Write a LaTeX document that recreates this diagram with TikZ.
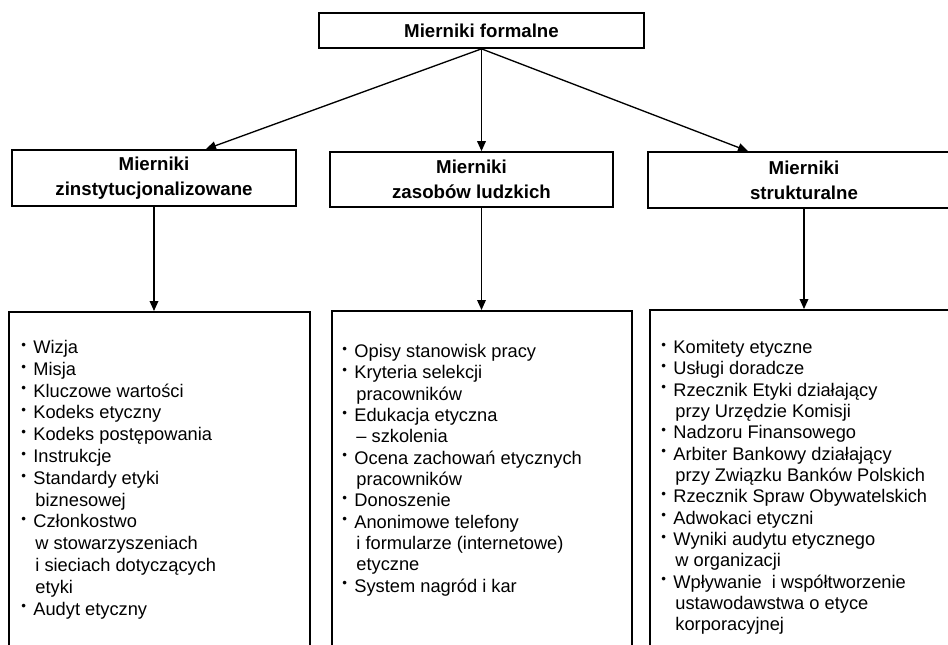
\documentclass[tikz,border=0pt]{standalone}
\usepackage{fontspec}
\setmainfont{Liberation Sans}
\usetikzlibrary{arrows.meta}
\newcommand{\pkt}{\makebox[9pt][l]{\raisebox{3.2pt}{\fontsize{10}{10}\selectfont\textbullet}}}
\newcommand{\dal}{\hspace*{10.5pt}}

\begin{document}
\begin{tikzpicture}[x=0.75pt,y=-0.75pt,
  naglowek/.style={draw, line width=1.3pt, align=center, inner sep=2pt,
    font=\fontsize{14}{19}\selectfont\bfseries},
  ramka/.style={draw, line width=1.3pt, anchor=north, minimum height=270pt},
  lista/.style={anchor=north west, inner sep=0pt, align=left,
    font=\fontsize{13.7}{16}\selectfont},
  strzalka/.style={-{Triangle[length=7.5pt,width=6.5pt]}, line width=1pt}
]
\useasboundingbox (0,0) rectangle (948,645);
\clip (0,0) rectangle (948,645);
\node[naglowek, minimum width=243.75pt, minimum height=26.25pt] (formalne) at (481.5,30.5)
  {Mierniki formalne};
\node[naglowek, minimum width=213pt, minimum height=42pt] (inst) at (154,178)
  {Mierniki\\zinstytucjonalizowane};
\node[naglowek, minimum width=212.25pt, minimum height=41.25pt] (ludzkie) at (471.5,179.5)
  {Mierniki\\zasobów ludzkich};
\node[naglowek, minimum width=234pt, minimum height=42pt] (strukt) at (804,180)
  {Mierniki\\strukturalne};
\node[ramka, minimum width=225.75pt] (instbox) at (159.5,311) {};
\node[ramka, minimum width=225pt] (ludzkiebox) at (482,310) {};
\node[ramka, minimum width=229.5pt] (struktbox) at (803,309) {};
\node[lista, font=\fontsize{13.7}{16.35}\selectfont] (instlista)
  at ([shift={(13,29)}]instbox.north west)
  {\pkt Wizja\\
   \pkt Misja\\
   \pkt Kluczowe wartości\\
   \pkt Kodeks etyczny\\
   \pkt Kodeks postępowania\\
   \pkt Instrukcje\\
   \pkt Standardy etyki\\
   \dal biznesowej\\
   \pkt Członkostwo\\
   \dal w stowarzyszeniach\\
   \dal i sieciach dotyczących\\
   \dal etyki\\
   \pkt Audyt etyczny};
\node[lista] (ludzkielista) at ([shift={(11,34)}]ludzkiebox.north west)
  {\pkt Opisy stanowisk pracy\\
   \pkt Kryteria selekcji\\
   \dal pracowników\\
   \pkt Edukacja etyczna\\
   \dal -- szkolenia\\
   \pkt Ocena zachowań etycznych\\
   \dal pracowników\\
   \pkt Donoszenie\\
   \pkt Anonimowe telefony\\
   \dal i formularze (internetowe)\\
   \dal etyczne\\
   \pkt System nagród i kar};
\node[lista] (struktlista) at ([shift={(12,31)}]struktbox.north west)
  {\pkt Komitety etyczne\\
   \pkt Usługi doradcze\\
   \pkt Rzecznik Etyki działający\\
   \dal przy Urzędzie Komisji\\
   \pkt Nadzoru Finansowego\\
   \pkt Arbiter Bankowy działający\\
   \dal przy Związku Banków Polskich\\
   \pkt Rzecznik Spraw Obywatelskich\\
   \pkt Adwokaci etyczni\\
   \pkt Wyniki audytu etycznego\\
   \dal w organizacji\\
   \pkt Wpływanie\ \ i współtworzenie\\
   \dal ustawodawstwa o etyce\\
   \dal korporacyjnej};
\draw[strzalka] (formalne.south) -- ([xshift=39pt]inst.north);
\draw[strzalka] (formalne.south) -- (formalne.south |- ludzkie.north);
\draw[strzalka] (formalne.south) -- ([xshift=-42pt]strukt.north);
\draw[strzalka] (inst.south) -- (inst.south |- instbox.north);
\draw[strzalka] (formalne.south |- ludzkie.south) -- (formalne.south |- ludzkiebox.north);
\draw[strzalka] (strukt.south) -- (strukt.south |- struktbox.north);
\end{tikzpicture}
\end{document}
